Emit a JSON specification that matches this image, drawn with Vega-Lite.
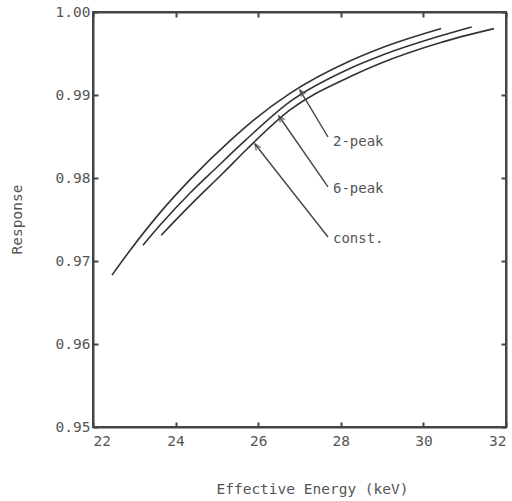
{
  "$schema": "https://vega.github.io/schema/vega-lite/v6.json",
  "autosize": "none",
  "width": 413,
  "height": 415,
  "padding": {"left": 93, "top": 12, "right": 6, "bottom": 74},
  "background": "white",
  "config": {
    "view": {"stroke": "#444", "strokeWidth": 2},
    "font": "DejaVu Sans Mono",
    "axis": {
      "domainColor": "#444", "domainWidth": 2, "tickColor": "#444", "tickWidth": 2,
      "tickSize": -5, "grid": false, "labelFont": "DejaVu Sans Mono", "labelFontSize": 14.5,
      "labelColor": "#555", "titleFont": "DejaVu Sans Mono", "titleFontSize": 14.5,
      "titleColor": "#555", "titleFontWeight": "normal"
    }
  },
  "datasets": {
    "curves": [
      {"energy": 22.46, "response": 0.9683, "curve": "2-peak"},
      {"energy": 22.90, "response": 0.9713, "curve": "2-peak"},
      {"energy": 23.62, "response": 0.9758, "curve": "2-peak"},
      {"energy": 24.35, "response": 0.9798, "curve": "2-peak"},
      {"energy": 25.32, "response": 0.9845, "curve": "2-peak"},
      {"energy": 25.92, "response": 0.9871, "curve": "2-peak"},
      {"energy": 26.77, "response": 0.9902, "curve": "2-peak"},
      {"energy": 28.22, "response": 0.9941, "curve": "2-peak"},
      {"energy": 28.95, "response": 0.9956, "curve": "2-peak"},
      {"energy": 30.43, "response": 0.9980, "curve": "2-peak"},
      {"energy": 23.21, "response": 0.9719, "curve": "6-peak"},
      {"energy": 23.62, "response": 0.9743, "curve": "6-peak"},
      {"energy": 24.35, "response": 0.9782, "curve": "6-peak"},
      {"energy": 25.00, "response": 0.9813, "curve": "6-peak"},
      {"energy": 25.68, "response": 0.9845, "curve": "6-peak"},
      {"energy": 26.77, "response": 0.9892, "curve": "6-peak"},
      {"energy": 28.22, "response": 0.9932, "curve": "6-peak"},
      {"energy": 28.95, "response": 0.9947, "curve": "6-peak"},
      {"energy": 30.40, "response": 0.9971, "curve": "6-peak"},
      {"energy": 31.17, "response": 0.9982, "curve": "6-peak"},
      {"energy": 23.65, "response": 0.9731, "curve": "const."},
      {"energy": 24.35, "response": 0.9767, "curve": "const."},
      {"energy": 25.15, "response": 0.9806, "curve": "const."},
      {"energy": 25.73, "response": 0.9835, "curve": "const."},
      {"energy": 26.77, "response": 0.9882, "curve": "const."},
      {"energy": 28.22, "response": 0.9922, "curve": "const."},
      {"energy": 28.95, "response": 0.9938, "curve": "const."},
      {"energy": 30.40, "response": 0.9963, "curve": "const."},
      {"energy": 31.71, "response": 0.9980, "curve": "const."}
    ],
    "labels": [
      {"label": "2-peak", "tipE": 27.01, "tipR": 0.9906, "endE": 27.69, "endR": 0.98494, "textE": 27.81, "textR": 0.98434},
      {"label": "6-peak", "tipE": 26.50, "tipR": 0.98747, "endE": 27.69, "endR": 0.97892, "textE": 27.81, "textR": 0.97867},
      {"label": "const.", "tipE": 25.92, "tipR": 0.9841, "endE": 27.69, "endR": 0.97289, "textE": 27.81, "textR": 0.97265}
    ]
  },
  "resolve": {"axis": {"x": "independent", "y": "independent"}},
  "layer": [
    {
      "data": {"name": "curves"},
      "mark": {"type": "line", "color": "#333", "strokeWidth": 1.6, "interpolate": "monotone"},
      "encoding": {
        "x": {"field": "energy", "type": "quantitative",
              "scale": {"domain": [22, 32], "nice": false, "zero": false},
              "axis": {"orient": "bottom", "values": [22, 24, 26, 28, 30, 32], "title": "Effective Energy (keV)",
                       "labelPadding": 12, "titleX": 219, "titleY": 62, "titleBaseline": "middle", "titleAnchor": null}},
        "y": {"field": "response", "type": "quantitative",
              "scale": {"domain": [0.95, 1.0], "nice": false, "zero": false},
              "axis": {"orient": "left", "values": [0.95, 0.96, 0.97, 0.98, 0.99, 1.0], "format": ".2f",
                       "title": "Response", "labelPadding": 8, "titleX": -76, "titleY": 207,
                       "titleAlign": "center", "titleBaseline": "middle", "titleAngle": -90}},
        "detail": {"field": "curve"}
      }
    },
    {
      "data": {"name": "labels"},
      "mark": {"type": "rule", "color": "#444", "strokeWidth": 1.4},
      "encoding": {
        "x": {"field": "endE", "type": "quantitative", "scale": {"domain": [22, 32], "nice": false, "zero": false},
              "axis": {"orient": "top", "values": [22, 24, 26, 28, 30, 32], "labels": false, "title": null}},
        "y": {"field": "endR", "type": "quantitative", "scale": {"domain": [0.95, 1.0], "nice": false, "zero": false},
              "axis": {"orient": "right", "values": [0.95, 0.96, 0.97, 0.98, 0.99, 1.0], "labels": false, "title": null}},
        "x2": {"field": "tipE"},
        "y2": {"field": "tipR"}
      }
    },
    {
      "data": {"name": "labels"},
      "mark": {"type": "point", "shape": "M -0.5 1.2 L 0 0 L 0.5 1.2", "filled": false, "stroke": "#444", "strokeWidth": 1.4, "size": 110, "angle": 325},
      "encoding": {
        "x": {"field": "tipE", "type": "quantitative", "axis": null},
        "y": {"field": "tipR", "type": "quantitative", "axis": null}
      }
    },
    {
      "data": {"name": "labels"},
      "mark": {"type": "text", "align": "left", "baseline": "middle", "fontSize": 14, "color": "#555", "font": "DejaVu Sans Mono"},
      "encoding": {
        "x": {"field": "textE", "type": "quantitative", "axis": null},
        "y": {"field": "textR", "type": "quantitative", "axis": null},
        "text": {"field": "label"}
      }
    }
  ]
}
